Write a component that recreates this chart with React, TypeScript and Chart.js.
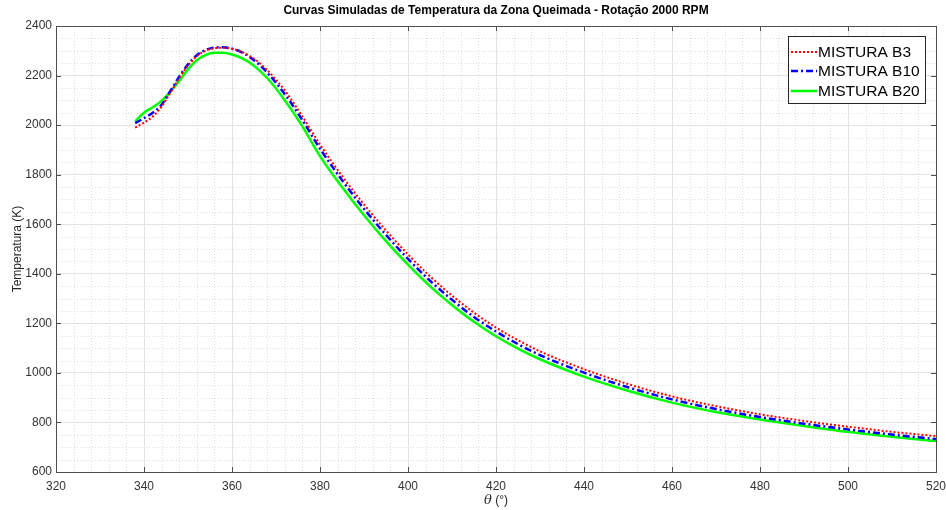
import React, { useEffect, useRef } from 'react';
import { Chart, registerables } from 'chart.js';

Chart.register(...registerables);

const theta = [338, 340, 342, 344, 346, 348, 350, 352, 354, 356, 358, 360, 362, 365, 368, 372, 376, 380, 385, 390, 395, 400, 405, 410, 415, 420, 425, 430, 440, 450, 460, 470, 480, 490, 500, 510, 520];
const tempB3 = [1990, 2010, 2035, 2075, 2130, 2190, 2240, 2278, 2300, 2310, 2312, 2308, 2298, 2268, 2222, 2140, 2035, 1922, 1795, 1680, 1575, 1478, 1390, 1312, 1243, 1183, 1132, 1087, 1015, 955, 905, 866, 833, 806, 783, 762, 745];
const tempB10 = [2008, 2028, 2050, 2082, 2138, 2195, 2245, 2282, 2303, 2313, 2314, 2308, 2296, 2262, 2212, 2125, 2020, 1905, 1778, 1662, 1557, 1460, 1372, 1295, 1226, 1167, 1116, 1072, 1001, 942, 893, 854, 822, 795, 772, 751, 733];
const tempB20 = [2015, 2050, 2072, 2098, 2135, 2178, 2225, 2262, 2283, 2292, 2292, 2285, 2272, 2240, 2190, 2100, 1995, 1875, 1750, 1636, 1532, 1437, 1350, 1274, 1206, 1148, 1098, 1055, 985, 928, 880, 842, 812, 786, 762, 742, 725];

const seriesLabels = ['MISTURA B3', 'MISTURA B10', 'MISTURA B20'];
const seriesColors = ['#ff0000', '#0000ff', '#00ff00'];
const xMajorTicks = [320, 340, 360, 380, 400, 420, 440, 460, 480, 500, 520];
const yMajorTicks = [600, 800, 1000, 1200, 1400, 1600, 1800, 2000, 2200, 2400];
const xMinorStep = 4;
const yMinorStep = 50;
const chartTitle = 'Curvas Simuladas de Temperatura da Zona Queimada - Rotação 2000 RPM';
const xTitleSymbol = 'θ';
const xTitleRest = ' (°)';
const yTitle = 'Temperatura (K)';

const FONT = '"Liberation Sans", Arial, Helvetica, sans-serif';

const decorPlugin = {
  id: 'decor',
  beforeDatasetsDraw(chart: any) {
    const { ctx, chartArea: a, scales } = chart;
    const xs = scales.x;
    const ys = scales.y;
    ctx.save();
    ctx.strokeStyle = '#dedede';
    ctx.lineWidth = 1;
    ctx.setLineDash([1, 2]);
    for (let v = xs.min; v <= xs.max; v += xMinorStep) {
      if (xMajorTicks.includes(v)) continue;
      const px = Math.round(xs.getPixelForValue(v)) + 0.5;
      ctx.beginPath();
      ctx.moveTo(px, a.top);
      ctx.lineTo(px, a.bottom);
      ctx.stroke();
    }
    for (let v = ys.min; v <= ys.max; v += yMinorStep) {
      if (yMajorTicks.includes(v)) continue;
      const py = Math.round(ys.getPixelForValue(v)) + 0.5;
      ctx.beginPath();
      ctx.moveTo(a.left, py);
      ctx.lineTo(a.right, py);
      ctx.stroke();
    }
    ctx.setLineDash([]);
    ctx.strokeStyle = '#4d4d4d';
    ctx.lineWidth = 1;
    ctx.strokeRect(Math.round(a.left) + 0.5, Math.round(a.top) + 0.5, Math.round(a.right - a.left), Math.round(a.bottom - a.top));
    const tl = 5;
    ctx.beginPath();
    xMajorTicks.forEach((v) => {
      const px = Math.round(xs.getPixelForValue(v)) + 0.5;
      ctx.moveTo(px, a.bottom);
      ctx.lineTo(px, a.bottom - tl);
      ctx.moveTo(px, a.top);
      ctx.lineTo(px, a.top + tl);
    });
    yMajorTicks.forEach((v) => {
      const py = Math.round(ys.getPixelForValue(v)) + 0.5;
      ctx.moveTo(a.left, py);
      ctx.lineTo(a.left + tl, py);
      ctx.moveTo(a.right, py);
      ctx.lineTo(a.right - tl, py);
    });
    ctx.stroke();
    ctx.restore();
  },
  afterDraw(chart: any) {
    const { ctx, chartArea: a } = chart;
    ctx.save();
    ctx.fillStyle = '#000';
    ctx.font = `bold 12px ${FONT}`;
    ctx.textAlign = 'center';
    ctx.textBaseline = 'middle';
    ctx.fillText(chartTitle, (a.left + a.right) / 2, 11);
    ctx.font = `12px ${FONT}`;
    const restW = ctx.measureText(xTitleRest).width;
    ctx.font = `italic 13px "DejaVu Serif", "Liberation Serif", serif`;
    const symW = ctx.measureText(xTitleSymbol).width;
    const cx = (a.left + a.right) / 2;
    const startX = cx - (symW + restW) / 2;
    ctx.textAlign = 'left';
    ctx.fillStyle = '#262626';
    ctx.fillText(xTitleSymbol, startX, 501);
    ctx.font = `12px ${FONT}`;
    ctx.fillText(xTitleRest, startX + symW, 501);
    ctx.save();
    ctx.translate(18, (a.top + a.bottom) / 2);
    ctx.rotate(-Math.PI / 2);
    ctx.textAlign = 'center';
    ctx.fillText(yTitle, 0, 0);
    ctx.restore();
    const lx = 788, ly = 36, lw = 137, lh = 67;
    ctx.fillStyle = '#ffffff';
    ctx.fillRect(lx, ly, lw, lh);
    ctx.strokeStyle = '#262626';
    ctx.lineWidth = 1;
    ctx.strokeRect(lx + 0.5, ly + 0.5, lw, lh);
    const rows = [52, 71, 91];
    chart.data.datasets.forEach((ds: any, i: number) => {
      const y = rows[i];
      ctx.strokeStyle = ds.borderColor;
      ctx.lineWidth = ds.borderWidth;
      ctx.setLineDash(ds.borderDash || []);
      ctx.beginPath();
      ctx.moveTo(791, y);
      ctx.lineTo(817, y);
      ctx.stroke();
      ctx.setLineDash([]);
      ctx.fillStyle = '#000';
      ctx.font = `15.5px ${FONT}`;
      ctx.textAlign = 'left';
      ctx.textBaseline = 'middle';
      ctx.fillText(ds.label, 818, y + 1);
    });
    ctx.restore();
  },
};

export default function App() {
  const ref = useRef<HTMLCanvasElement>(null);
  useEffect(() => {
    if (!ref.current) return;
    const mk = (vals: number[]) => theta.map((t, i) => ({ x: t, y: vals[i] }));
    const chart = new Chart(ref.current, {
      type: 'line',
      data: {
        datasets: [
          { label: seriesLabels[0], data: mk(tempB3), borderColor: seriesColors[0], borderWidth: 2, borderDash: [2, 2], pointRadius: 0, cubicInterpolationMode: 'monotone', order: 1, fill: false },
          { label: seriesLabels[1], data: mk(tempB10), borderColor: seriesColors[1], borderWidth: 2.5, borderDash: [7, 3, 2, 3], pointRadius: 0, cubicInterpolationMode: 'monotone', order: 2, fill: false },
          { label: seriesLabels[2], data: mk(tempB20), borderColor: seriesColors[2], borderWidth: 2.5, pointRadius: 0, cubicInterpolationMode: 'monotone', order: 3, fill: false },
        ],
      },
      options: {
        responsive: false,
        animation: false,
        devicePixelRatio: 1,
        layout: { padding: { left: 0, right: 10, top: 26, bottom: 0 } },
        plugins: { legend: { display: false }, title: { display: false }, tooltip: { enabled: false } },
        scales: {
          x: {
            type: 'linear',
            min: 320,
            max: 520,
            afterFit: (s: any) => { s.height = 38; s.paddingLeft = 0; s.paddingRight = 0; },
            afterBuildTicks: (s: any) => { s.ticks = xMajorTicks.map((v) => ({ value: v })); },
            ticks: { font: { family: FONT, size: 12 }, color: '#333333', padding: 7, maxRotation: 0, autoSkip: false, callback: (v: any) => String(v) },
            grid: { color: '#e3e3e3', drawTicks: false },
            border: { display: false },
          },
          y: {
            type: 'linear',
            min: 600,
            max: 2400,
            afterFit: (s: any) => { s.width = 56; s.paddingTop = 0; s.paddingBottom = 0; },
            afterBuildTicks: (s: any) => { s.ticks = yMajorTicks.map((v) => ({ value: v })); },
            ticks: { font: { family: FONT, size: 12 }, color: '#333333', padding: 4, autoSkip: false, callback: (v: any) => String(v) },
            grid: { color: '#e3e3e3', drawTicks: false },
            border: { display: false },
          },
        },
      } as any,
      plugins: [decorPlugin],
    });
    return () => chart.destroy();
  }, []);
  return (
    <div style={{ position: 'absolute', left: 0, top: 0, width: 946, height: 510, background: '#fff' }}>
      <canvas ref={ref} width={946} height={510} style={{ width: 946, height: 510, display: 'block' }} />
    </div>
  );
}
